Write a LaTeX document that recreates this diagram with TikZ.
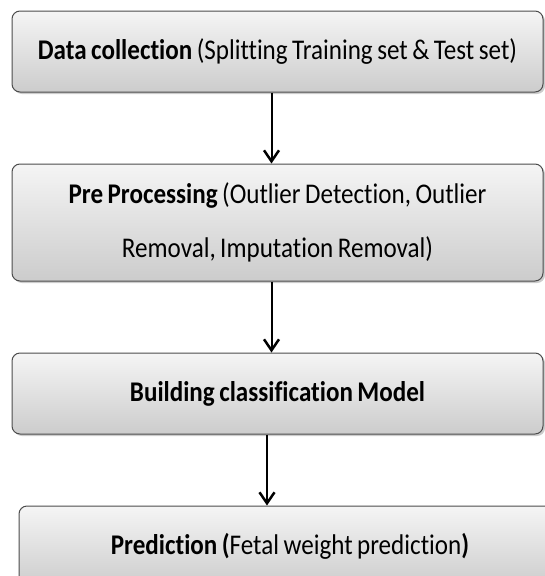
\documentclass[tikz,border=0pt]{standalone}
\usepackage{fontspec}
\setmainfont{Carlito}[FakeStretch=0.88,Ligatures=CommonOff]
\usetikzlibrary{arrows.meta,positioning,shadows}
\newcommand{\boxfont}{\fontsize{28.5}{54}\selectfont\spaceskip=4.5pt plus 1pt minus 1pt\relax}

\begin{document}
\begin{tikzpicture}[x=1pt,y=1pt,>={Straight Barb[length=11pt,width=15pt,line width=2.5pt]},
    node distance=71pt,
    step box/.style={draw=black!70,line width=1pt,rounded corners=8pt,
      top color=black!4,bottom color=black!20,inner sep=0pt,
      text width=531pt,align=flush center,minimum height=81pt,
      drop shadow={shadow xshift=2pt,shadow yshift=-2pt,fill=black!40},
      font=\boxfont},
    flow/.style={->,line width=2pt}]

  \useasboundingbox (0,0) rectangle (545,-576);

  \node[step box]                       (b1) at (277.5,-51.5) {\textbf{Data collection} (Splitting Training set \& Test set)};
  \node[step box,minimum height=117pt]  (b2) [below=of b1] {\textbf{Pre Processing} (Outlier Detection, Outlier\\ Removal, Imputation Removal)};
  \node[step box]                       (b3) [below=of b2] {\textbf{Building classification Model}};
  \node[step box,text width=542pt]      (b4) [below=of b3,xshift=12.5pt] {\textbf{Prediction (}Fetal weight prediction\textbf{)}};

  \draw[flow] ([xshift=-6pt]b1.south) -- ([xshift=-6pt]b2.north);
  \draw[flow] ([xshift=-6pt]b2.south) -- ([xshift=-6pt]b3.north);
  \draw[flow] ([xshift=-10.5pt]b3.south) -- ([xshift=-23pt]b4.north);

\end{tikzpicture}
\end{document}
